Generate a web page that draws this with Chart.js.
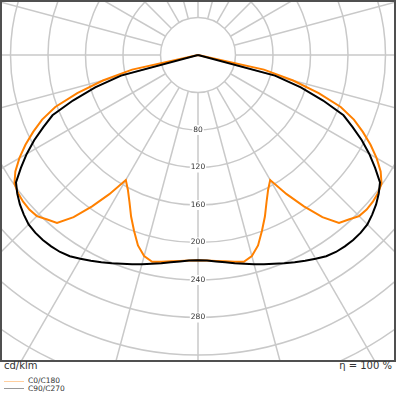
<!DOCTYPE html>
<html><head><meta charset="utf-8">
<script src="https://cdn.jsdelivr.net/npm/chart.js@4/dist/chart.umd.min.js"></script>
<style>
html,body{margin:0;padding:0;background:#fff;}
body{width:396px;height:396px;position:relative;overflow:hidden;font-family:"DejaVu Sans",sans-serif;}
#frame{position:absolute;left:0;top:0;width:392px;height:358px;border:2px solid #505050;}
canvas{display:block;}
.t{position:absolute;color:#333;white-space:nowrap;line-height:1;}
.lg{position:absolute;height:1px;width:20px;left:4px;}
</style></head><body>
<div id="frame"><canvas id="c" width="392" height="358"></canvas></div>
<div class="t" style="left:4px;top:361px;font-size:10px">cd/klm</div>
<div class="t" style="right:4px;top:361px;font-size:10px">η = 100 %</div>
<div class="lg" style="top:381px;background:#ffcf9f"></div>
<div class="t" style="left:28px;top:377px;font-size:7.5px">C0/C180</div>
<div class="lg" style="top:388px;background:#999"></div>
<div class="t" style="left:28px;top:384.5px;font-size:7.5px">C90/C270</div>
<script>
// gamma angles (degrees from nadir), one half-plane
const gammaAngles = [0,2.5,5,7.5,10,12.5,15,17.5,20,22.5,25,27.5,30,32.5,35,37.5,40,42.5,45,47.5,50,52.5,55,57.5,60,62.5,65,67.5,70,72.5,75,77.5,80,82.5,85,87.5,90];
// intensities in cd/klm
const c0Values   = [219,219.5,220.5,222,224,226,222,213,199.5,186.5,173,162,154,176,197,218,234,238,243,244,243.5,242,239,231,220,207.5,194,180,162,135,105,72,0,0,0,0,0];
const c180Values = [219,219.5,220.5,222,224,226,222,213,199.5,186.5,173,162,154,176,197,218,234,238,243,244,243.5,242,239,231,220,207.5,194,180,162,135,105,72,0,0,0,0,0];
const c90Values  = [219,219.5,221,223,225.5,228,231,234,237,240.5,244,247.5,251,254.5,256.5,257.3,257.5,257,255.5,252,248,243,237,224,211,197,182,168,142,115,85,0,0,0,0,0,0];
const c270Values = [219,219.5,221,223,225.5,228,231,234,237,240.5,244,247.5,251,254.5,256.5,257.3,257.5,257,255.5,252,248,243,237,224,211,197,182,168,142,115,85,0,0,0,0,0,0];
const ringValues = [40,80,120,160,200,240,280,320,360,400];
const tickLabels = ['80','120','160','200','240','280'];
const spokeStep = 15;
const seriesNames = ['C0/C180','C90/C270'];

function polarPoints(leftVals, rightVals){
  const pts = [];
  for (let i = gammaAngles.length-1; i >= 0; i--) {
    const a = gammaAngles[i]*Math.PI/180;
    pts.push({x: -leftVals[i]*Math.sin(a), y: -leftVals[i]*Math.cos(a)});
  }
  for (let i = 1; i < gammaAngles.length; i++) {
    const a = gammaAngles[i]*Math.PI/180;
    pts.push({x: rightVals[i]*Math.sin(a), y: -rightVals[i]*Math.cos(a)});
  }
  return pts;
}

const polarGrid = {
  id: 'polarGrid',
  beforeDatasetsDraw(chart){
    const {ctx, chartArea, scales:{x, y}} = chart;
    const cx = x.getPixelForValue(0), cy = y.getPixelForValue(0);
    const k = x.getPixelForValue(1) - cx;
    ctx.save();
    ctx.beginPath();
    ctx.rect(chartArea.left, chartArea.top, chartArea.right-chartArea.left, chartArea.bottom-chartArea.top);
    ctx.clip();
    ctx.strokeStyle = '#c9c9c9';
    ctx.lineWidth = 1.5;
    ringValues.forEach(r => { ctx.beginPath(); ctx.arc(cx, cy, r*k, 0, Math.PI*2); ctx.stroke(); });
    const r0 = ringValues[0], r1 = ringValues[ringValues.length-1];
    for (let a = 0; a < 360; a += spokeStep) {
      const t = a*Math.PI/180;
      ctx.beginPath();
      ctx.moveTo(cx + r0*k*Math.sin(t), cy + r0*k*Math.cos(t));
      ctx.lineTo(cx + r1*k*Math.sin(t), cy + r1*k*Math.cos(t));
      ctx.stroke();
    }
    ctx.font = '7.5px "DejaVu Sans"';
    ctx.textAlign = 'center';
    ctx.textBaseline = 'middle';
    tickLabels.forEach(s => {
      const py = y.getPixelForValue(-Number(s));
      const w = ctx.measureText(s).width;
      ctx.fillStyle = '#fff';
      ctx.fillRect(cx - w/2 - 1, py - 5, w + 2, 10);
      ctx.fillStyle = '#333';
      ctx.fillText(s, cx, py);
    });
    ctx.restore();
  }
};

new Chart(document.getElementById('c'), {
  type: 'scatter',
  data: {
    datasets: [
      {label: seriesNames[1], data: polarPoints(c270Values, c90Values), showLine: true, borderColor: '#000000', borderWidth: 2, pointRadius: 0, tension: 0, order: 0},
      {label: seriesNames[0], data: polarPoints(c180Values, c0Values), showLine: true, borderColor: '#ff8000', borderWidth: 2, pointRadius: 0, tension: 0, order: 1}
    ]
  },
  options: {
    responsive: false,
    animation: false,
    layout: {padding: 0},
    plugins: {legend: {display: false}, tooltip: {enabled: false}},
    scales: {
      x: {type: 'linear', display: false, min: -196/0.9375, max: 196/0.9375},
      y: {type: 'linear', display: false, min: -305/0.9375, max: 53/0.9375}
    }
  },
  plugins: [polarGrid]
});
</script>
</body></html>
